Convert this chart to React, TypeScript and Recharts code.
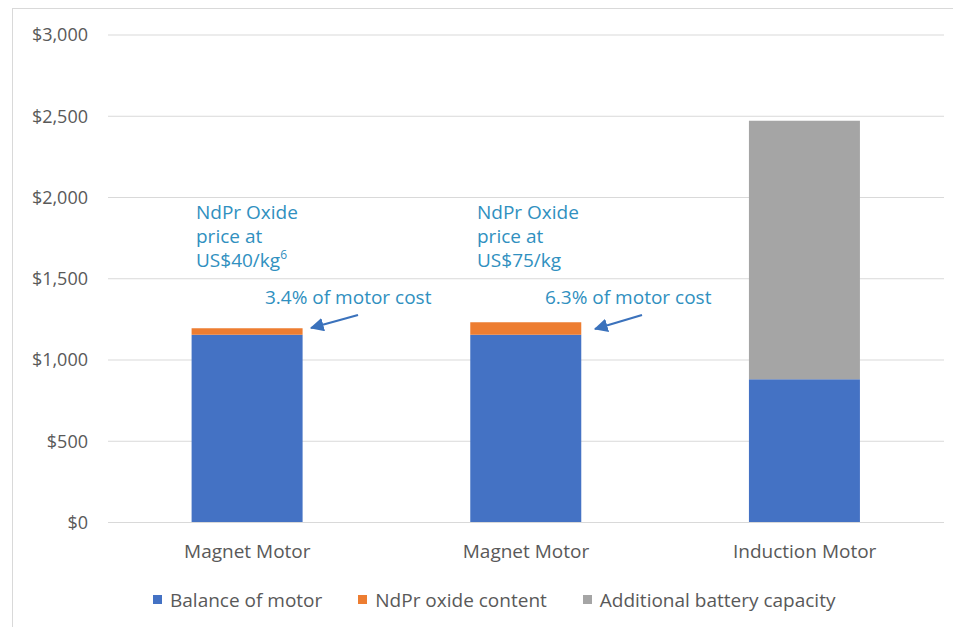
import React from 'react';
import {
  BarChart,
  Bar,
  XAxis,
  YAxis,
  CartesianGrid,
  Legend,
  Customized,
} from 'recharts';

// categories (keys are unique, labels repeat)
const categoryKeys = ['magnet40', 'magnet75', 'induction'];
const categoryLabels = ['Magnet Motor', 'Magnet Motor', 'Induction Motor'];

// series values in US$
const balanceOfMotor = [1155, 1155, 882];
const ndprOxideContent = [40, 78, 0];
const additionalBattery = [0, 0, 1590];

const yTicks = [0, 500, 1000, 1500, 2000, 2500, 3000];

const SERIES = [
  { key: 'balance', name: 'Balance of motor', colour: '#4472C4' },
  { key: 'ndpr', name: 'NdPr oxide content', colour: '#ED7D31' },
  { key: 'battery', name: 'Additional battery capacity', colour: '#A5A5A5' },
];

const data = categoryKeys.map((key, i) => ({
  key,
  balance: balanceOfMotor[i],
  ndpr: ndprOxideContent[i],
  battery: additionalBattery[i],
}));

const FONT = '"Open Sans", sans-serif';
const NOTE_COLOUR = '#3090C0';
const ARROW_COLOUR = '#3B72BC';

const formatDollar = (v: number) => `$${v.toLocaleString('en-US')}`;

function LegendContent() {
  return (
    <div
      style={{
        display: 'flex',
        justifyContent: 'flex-start',
        gap: 36,
        fontFamily: FONT,
        fontSize: 19,
        lineHeight: '26px',
        color: '#595959',
        paddingLeft: 153,
        paddingTop: 16,
      }}
    >
      {SERIES.map((s) => (
        <div key={s.key} style={{ display: 'flex', alignItems: 'center', gap: 8 }}>
          <span style={{ width: 9, height: 9, background: s.colour, display: 'inline-block' }} />
          <span>{s.name}</span>
        </div>
      ))}
    </div>
  );
}

// callout text and arrows (annotation layer)
function Annotations() {
  const notes = [
    { x: 196, lines: ['NdPr Oxide', 'price at', 'US$40/kg'], sup: '6', pct: '3.4% of motor cost', px: 265, arrow: [358, 315, 311, 328] },
    { x: 477, lines: ['NdPr Oxide', 'price at', 'US$75/kg'], sup: '', pct: '6.3% of motor cost', px: 545, arrow: [642, 315, 595, 329] },
  ];
  return (
    <g fontFamily={FONT} fill={NOTE_COLOUR}>
      <defs>
        <marker id="arrowHead" markerWidth="6" markerHeight="6" refX="5.5" refY="3" orient="auto" markerUnits="strokeWidth">
          <path d="M0,0 L6,3 L0,6 Z" fill={ARROW_COLOUR} />
        </marker>
      </defs>
      {notes.map((n, i) => (
        <g key={i}>
          {n.lines.map((line, j) => (
            <text key={j} x={n.x} y={219 + j * 24} fontSize={19}>
              {line}
              {j === 2 && n.sup ? (
                <tspan fontSize={12} dy={-8}>
                  {n.sup}
                </tspan>
              ) : null}
            </text>
          ))}
          <text x={n.px} y={304} fontSize={19}>
            {n.pct}
          </text>
          <line
            x1={n.arrow[0]}
            y1={n.arrow[1]}
            x2={n.arrow[2]}
            y2={n.arrow[3]}
            stroke={ARROW_COLOUR}
            strokeWidth={2.3}
            markerEnd="url(#arrowHead)"
          />
        </g>
      ))}
    </g>
  );
}

export default function App() {
  return (
    <div style={{ position: 'absolute', left: 0, top: 0, width: 953, height: 627, overflow: 'hidden', background: '#fff' }}>
      <div
        style={{
          position: 'absolute',
          left: 12,
          top: 8,
          width: 960,
          height: 640,
          borderTop: '1.5px solid #D9D9D9',
          borderLeft: '1.5px solid #D9D9D9',
        }}
      />
      <BarChart
        width={953}
        height={627}
        data={data}
        margin={{ top: 35, right: 9, bottom: 12.5, left: 0 }}
        barCategoryGap="30%"
        style={{ position: 'absolute', left: 0, top: 0 }}
      >
        <CartesianGrid vertical={false} stroke="#D9D9D9" strokeWidth={1.2} />
        <XAxis
          dataKey="key"
          tickFormatter={(_v: string, i: number) => categoryLabels[i]}
          axisLine={{ stroke: '#D9D9D9', strokeWidth: 1.2 }}
          tickLine={false}
          tickSize={0}
          tickMargin={22}
          height={48}
          tick={{ fill: '#595959', fontSize: 19, fontFamily: FONT }}
        />
        <YAxis
          domain={[0, 3000]}
          ticks={yTicks}
          tickFormatter={formatDollar}
          axisLine={false}
          tickLine={false}
          tickSize={0}
          tickMargin={20}
          width={108}
          tick={{ fill: '#595959', fontSize: 18, fontFamily: FONT }}
        />
        <Legend verticalAlign="bottom" height={44} content={<LegendContent />} />
        {SERIES.map((s) => (
          <Bar key={s.key} dataKey={s.key} name={s.name} stackId="a" fill={s.colour} isAnimationActive={false} />
        ))}
        <Customized component={<Annotations />} />
      </BarChart>
    </div>
  );
}
